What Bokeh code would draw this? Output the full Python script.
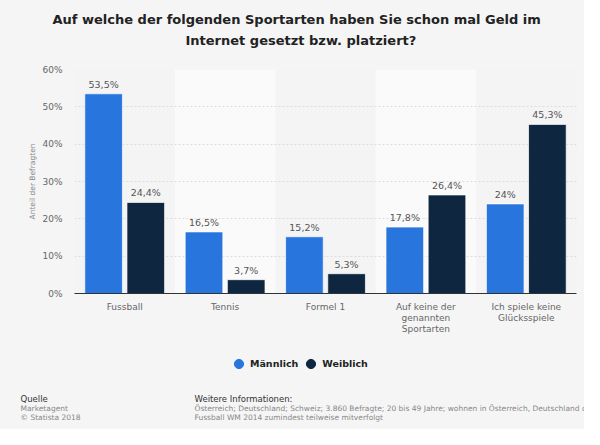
from bokeh.plotting import figure
from bokeh.layouts import column, row
from bokeh.models import (FactorRange, Range1d, FixedTicker, PrintfTickFormatter,
                          Label, Legend, LegendItem, ColumnDataSource, Title)
from bokeh.transform import dodge
from bokeh.core.properties import value
from bokeh.embed import file_html
from bokeh.resources import INLINE

# ---------------- data ----------------
categories = ["Fussball", "Tennis", "Formel 1",
              "Auf keine der\ngenannten\nSportarten",
              "Ich spiele keine\nGlücksspiele"]
maennlich = [53.5, 16.5, 15.2, 17.8, 24.0]
weiblich = [24.4, 3.7, 5.3, 26.4, 45.3]
y_ticks = [0, 10, 20, 30, 40, 50, 60]
series_names = ["Männlich", "Weiblich"]
title_lines = ["Auf welche der folgenden Sportarten haben Sie schon mal Geld im",
               "Internet gesetzt bzw. platziert?"]
source_lines = ["Quelle", "Marketagent", "© Statista 2018"]
info_lines = ["Weitere Informationen:",
              "Österreich; Deutschland; Schweiz; 3.860 Befragte; 20 bis 49 Jahre; wohnen in Österreich, Deutschland oder der Schweiz; haben die",
              "Fussball WM 2014 zumindest teilweise mitverfolgt"]

def fmt(v):
    return ("%g" % v).replace(".", ",") + "%"

FONT = "DejaVu Sans"
BG = "#f5f5f5"
C_M = "#2876dd"
C_W = "#0f2640"
W = 584

# ---------------- main chart ----------------
src = ColumnDataSource(dict(
    cat=categories, m=maennlich, w=weiblich,
    ml=[fmt(v) for v in maennlich], wl=[fmt(v) for v in weiblich]))

p = figure(x_range=FactorRange(factors=categories, range_padding=0),
           y_range=Range1d(0, 60),
           frame_width=502, frame_height=224,
           min_border_left=74, min_border_right=8,
           min_border_top=69, min_border_bottom=52,
           output_backend="svg", toolbar_location=None)
p.border_fill_color = BG
p.background_fill_color = "#f4f4f4"
p.outline_line_color = None

# title: spacer closest to the frame, then line 2, then line 1
p.add_layout(Title(text=" ", text_font_size="2px", standoff=16), "above")
p.add_layout(Title(text=title_lines[1], align="left", offset=111, standoff=4,
                   text_font=FONT, text_font_style="bold",
                   text_font_size="13px", text_color="#222222"), "above")
p.add_layout(Title(text=title_lines[0], align="left", offset=-22, standoff=3,
                   text_font=FONT, text_font_style="bold",
                   text_font_size="13px", text_color="#222222"), "above")

band_src = ColumnDataSource(dict(cat=[categories[1], categories[3]]))
p.vbar(x="cat", top=60, bottom=0, width=1.0, source=band_src,
       fill_color="#fafafa", line_color=None, level="image")

p.vbar(x=dodge("cat", -0.21, range=p.x_range), top="m", width=0.375, source=src,
       fill_color=C_M, line_color="white", line_alpha=0.7, line_width=1)
p.vbar(x=dodge("cat", 0.21, range=p.x_range), top="w", width=0.375, source=src,
       fill_color=C_W, line_color="white", line_alpha=0.7, line_width=1)

for off, col, lab in [(-0.21, "m", "ml"), (0.21, "w", "wl")]:
    p.text(x=dodge("cat", off, range=p.x_range), y=col, text=lab, source=src,
           text_align="center", text_baseline="bottom", y_offset=-4,
           text_font_size="9.5px", text_color="#555555", text_font=value(FONT))

p.xgrid.grid_line_color = None
p.ygrid.grid_line_color = "#dddddd"
p.ygrid.grid_line_dash = "2 2"
p.yaxis.ticker = FixedTicker(ticks=y_ticks)
p.yaxis.formatter = PrintfTickFormatter(format="%d%%")
p.yaxis.axis_line_color = None
p.yaxis.major_tick_line_color = None
p.yaxis.minor_tick_line_color = None
p.yaxis.major_tick_out = 0
p.yaxis.minor_tick_out = 0
p.yaxis.major_label_standoff = 12
p.yaxis.major_label_text_font = FONT
p.yaxis.major_label_text_font_size = "9px"
p.yaxis.major_label_text_color = "#666666"
p.yaxis.axis_label = "Anteil der Befragten"
p.yaxis.axis_label_text_font = FONT
p.yaxis.axis_label_text_font_size = "7.5px"
p.yaxis.axis_label_text_font_style = "normal"
p.yaxis.axis_label_text_color = "#888888"
p.yaxis.axis_label_standoff = 2

p.xaxis.axis_line_color = "#333333"
p.xaxis.major_tick_line_color = None
p.xaxis.minor_tick_line_color = None
p.xaxis.major_tick_out = 0
p.xaxis.minor_tick_out = 0
p.xaxis.major_label_standoff = 8
p.xaxis.major_label_text_font = FONT
p.xaxis.major_label_text_font_size = "9px"
p.xaxis.major_label_text_color = "#666666"
p.xaxis.major_label_text_line_height = 1.1

# ---------------- footer (legend + sources) ----------------
foot = figure(width=W, height=84, x_range=Range1d(0, 1), y_range=Range1d(0, 1),
              min_border=0, output_backend="svg", toolbar_location=None)
foot.axis.visible = False
foot.grid.visible = False
foot.outline_line_color = None
foot.border_fill_color = BG
foot.background_fill_color = BG

nan = float("nan")
r1 = foot.scatter(x=[nan], y=[nan], marker="circle", fill_color=C_M, line_color=C_M)
r2 = foot.scatter(x=[nan], y=[nan], marker="circle", fill_color=C_W, line_color=C_W)
leg = Legend(items=[LegendItem(label=series_names[0], renderers=[r1]),
                    LegendItem(label=series_names[1], renderers=[r2])],
             orientation="horizontal", location=(227, 54),
             glyph_width=23, glyph_height=23, label_standoff=0, spacing=1,
             padding=0, margin=0, border_line_color=None,
             background_fill_alpha=0,
             label_text_font=FONT, label_text_font_style="bold",
             label_text_font_size="9.5px", label_text_color="#222222")
foot.add_layout(leg, "center")

ys = [30.3, 20.7, 11.7]
for lines, x0 in [(source_lines, 20), (info_lines, 194)]:
    for i, t in enumerate(lines):
        foot.add_layout(Label(x=x0, y=ys[i], x_units="screen", y_units="screen",
                              text=t, text_baseline="middle", text_font=FONT,
                              text_font_size="7.5px" if i else "8.5px",
                              text_color="#888888" if i else "#333333"))

layout = column(p, row(foot, styles={"background-color": BG}), spacing=0,
                styles={"background-color": BG})
open("out.html", "w").write(file_html(layout, INLINE))
